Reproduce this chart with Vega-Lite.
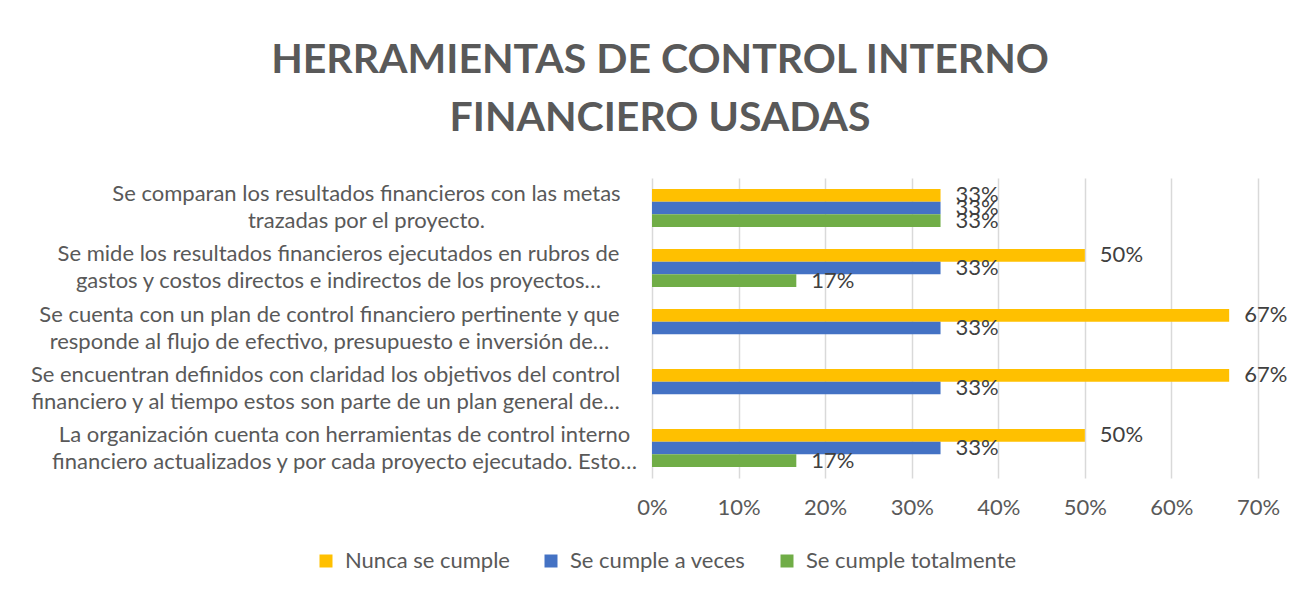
{
  "$schema": "https://vega.github.io/schema/vega-lite/v6.json",
  "width": 606,
  "height": 300,
  "autosize": "none",
  "padding": {"left": 652, "top": 178, "right": 38, "bottom": 116},
  "background": "white",
  "title": {
    "text": ["HERRAMIENTAS DE CONTROL INTERNO", "FINANCIERO USADAS"],
    "anchor": "middle",
    "dx": -295,
    "offset": 38,
    "font": "Lato",
    "fontSize": 41,
    "fontWeight": "bold",
    "color": "#595959",
    "lineHeight": 58
  },
  "data": {
    "values": [
      {"cat": "Se comparan los resultados financieros con las metas|trazadas por el proyecto.", "serie": "Nunca se cumple", "value": 0.3333},
      {"cat": "Se comparan los resultados financieros con las metas|trazadas por el proyecto.", "serie": "Se cumple a veces", "value": 0.3333},
      {"cat": "Se comparan los resultados financieros con las metas|trazadas por el proyecto.", "serie": "Se cumple totalmente", "value": 0.3333},
      {"cat": "Se mide los resultados financieros ejecutados en rubros de|gastos y costos directos e indirectos de los proyectos…", "serie": "Nunca se cumple", "value": 0.5},
      {"cat": "Se mide los resultados financieros ejecutados en rubros de|gastos y costos directos e indirectos de los proyectos…", "serie": "Se cumple a veces", "value": 0.3333},
      {"cat": "Se mide los resultados financieros ejecutados en rubros de|gastos y costos directos e indirectos de los proyectos…", "serie": "Se cumple totalmente", "value": 0.1667},
      {"cat": "Se cuenta con un plan de control financiero pertinente y que|responde al flujo de efectivo, presupuesto e inversión de…", "serie": "Nunca se cumple", "value": 0.6667},
      {"cat": "Se cuenta con un plan de control financiero pertinente y que|responde al flujo de efectivo, presupuesto e inversión de…", "serie": "Se cumple a veces", "value": 0.3333},
      {"cat": "Se encuentran definidos con claridad los objetivos del control|financiero y al tiempo estos son parte de un plan general de…", "serie": "Nunca se cumple", "value": 0.6667},
      {"cat": "Se encuentran definidos con claridad los objetivos del control|financiero y al tiempo estos son parte de un plan general de…", "serie": "Se cumple a veces", "value": 0.3333},
      {"cat": "La organización cuenta con herramientas de control interno|financiero actualizados y por cada proyecto ejecutado. Esto…", "serie": "Nunca se cumple", "value": 0.5},
      {"cat": "La organización cuenta con herramientas de control interno|financiero actualizados y por cada proyecto ejecutado. Esto…", "serie": "Se cumple a veces", "value": 0.3333},
      {"cat": "La organización cuenta con herramientas de control interno|financiero actualizados y por cada proyecto ejecutado. Esto…", "serie": "Se cumple totalmente", "value": 0.1667}
    ]
  },
  "encoding": {
    "y": {
      "field": "cat",
      "type": "nominal",
      "sort": null,
      "title": null,
      "scale": {"paddingInner": 0.367, "paddingOuter": 0.183},
      "axis": {
        "domain": false,
        "ticks": false,
        "labelExpr": "split(datum.value, '|')",
        "labelFont": "Lato",
        "labelFontSize": 22,
        "labelColor": "#595959",
        "labelLineHeight": 27,
        "labelLimit": 700,
        "labelAlign": "center",
        "labelBaseline": "middle",
        "labelOffset": -13.5,
        "labelPadding": {"expr": "test(/^Se comparan/, datum.value) ? 286 : test(/^Se mide/, datum.value) ? 314 : test(/^Se cuenta/, datum.value) ? 323 : test(/^Se encuentran/, datum.value) ? 327 : 308"}
      }
    },
    "yOffset": {
      "field": "serie",
      "type": "nominal",
      "sort": ["Nunca se cumple", "Se cumple a veces", "Se cumple totalmente"],
      "scale": {"paddingInner": 0, "domain": ["Nunca se cumple", "Se cumple a veces", "Se cumple totalmente"]}
    },
    "x": {
      "field": "value",
      "type": "quantitative",
      "title": null,
      "scale": {"domain": [0, 0.7], "nice": false},
      "axis": {
        "values": [0, 0.1, 0.2, 0.3, 0.4, 0.5, 0.6, 0.7],
        "format": ".0%",
        "domain": false,
        "ticks": false,
        "grid": true,
        "gridColor": "#d9d9d9",
        "gridWidth": 1.5,
        "labelFlush": false,
        "labelFont": "Lato",
        "labelFontSize": 22,
        "labelColor": "#595959",
        "labelPadding": 19
      }
    }
  },
  "layer": [
    {
      "mark": {"type": "bar"},
      "encoding": {
        "color": {
          "field": "serie",
          "type": "nominal",
          "scale": {"domain": ["Nunca se cumple", "Se cumple a veces", "Se cumple totalmente"], "range": ["#FFC000", "#4472C4", "#70AD47"]},
          "legend": {
            "title": null,
            "orient": "none",
            "direction": "horizontal",
            "legendX": -337,
            "legendY": 372,
            "symbolType": "square",
            "symbolSize": 169,
            "symbolStrokeWidth": 0,
            "labelFont": "Lato",
            "labelFontSize": 22,
            "labelColor": "#595959",
            "labelOffset": 8,
            "columnPadding": 30,
            "padding": 0,
            "labelLimit": 400
          }
        }
      }
    },
    {
      "mark": {"type": "text", "align": "left", "baseline": "middle", "dx": 15, "font": "Lato", "fontSize": 22, "color": "#404040"},
      "encoding": {
        "text": {"field": "value", "type": "quantitative", "format": ".0%"}
      }
    }
  ],
  "config": {
    "view": {"stroke": null}
  }
}
